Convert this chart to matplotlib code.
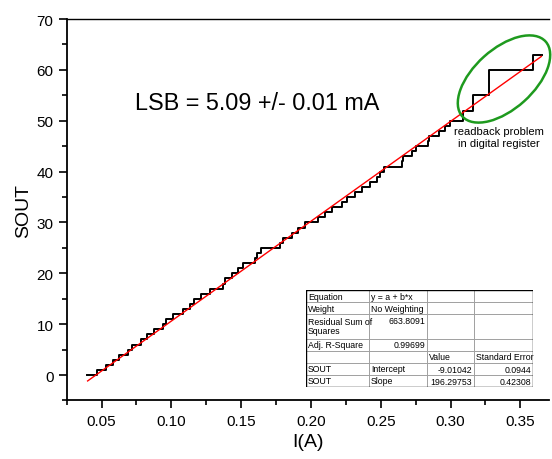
import matplotlib
matplotlib.use('Agg')
import matplotlib.pyplot as plt
from matplotlib.patches import Ellipse
from matplotlib.ticker import MultipleLocator

plt.rcParams['font.family'] = ['Liberation Sans', 'DejaVu Sans']

step_current = [0.0398, 0.0469, 0.0532, 0.0584, 0.0627, 0.0691, 0.0716, 0.0780, 0.0823, 0.0875,
                0.0942, 0.0961, 0.1014, 0.1085, 0.1130, 0.1165, 0.1210, 0.1277, 0.1372, 0.1384,
                0.1432, 0.1479, 0.1515, 0.1599, 0.1615, 0.1645, 0.1781, 0.1797, 0.1862, 0.1909,
                0.1957, 0.2052, 0.2100, 0.2148, 0.2220, 0.2256, 0.2315, 0.2363, 0.2423, 0.2471,
                0.2494, 0.2525, 0.2654, 0.2660, 0.2721, 0.2750, 0.2840, 0.2848, 0.2917, 0.2960,
                0.2996, 0.3091, 0.3158, 0.3277, 0.3592, 0.3653]
step_sout = [0, 1, 2, 3, 4, 5, 6, 7, 8, 9,
             10, 11, 12, 13, 14, 15, 16, 17, 18, 19,
             20, 21, 22, 23, 24, 25, 26, 27, 28, 29,
             30, 31, 32, 33, 34, 35, 36, 37, 38, 39,
             40, 41, 42, 43, 44, 45, 46, 47, 48, 49,
             50, 52, 55, 60, 63, 63]

# linear fit y = a + b*x
fit_a = -9.01042
fit_b = 196.29753
fit_range = [0.040, 0.365]

table_rows = [
    ['Equation', 'y = a + b*x', '', ''],
    ['Weight', 'No Weighting', '', ''],
    ['Residual Sum of\nSquares', '663.8091', '', ''],
    ['Adj. R-Square', '0.99699', '', ''],
    ['', '', 'Value', 'Standard Error'],
    ['SOUT', 'Intercept', '-9.01042', '0.0944'],
    ['SOUT', 'Slope', '196.29753', '0.42308'],
]
right_cells = {(2, 1), (3, 1), (5, 2), (5, 3), (6, 2), (6, 3)}

fig = plt.figure(figsize=(5.52, 4.6), dpi=100)
ax = fig.add_axes([0.1208, 0.1272, 0.8738, 0.8293])

ax.plot(step_current, step_sout, color='black', lw=1.4, drawstyle='steps-post')
ax.plot(fit_range, [fit_a + fit_b * x for x in fit_range], color='red', lw=1.0)

ax.set_xlim(0.025, 0.3705)
ax.set_ylim(-5, 70)
ax.xaxis.set_major_locator(MultipleLocator(0.05))
ax.xaxis.set_minor_locator(MultipleLocator(0.025))
ax.yaxis.set_major_locator(MultipleLocator(10))
ax.yaxis.set_minor_locator(MultipleLocator(5))
ax.xaxis.set_major_formatter(matplotlib.ticker.FormatStrFormatter('%.2f'))
ax.tick_params(which='major', direction='out', length=6, width=1.2, labelsize=11)
ax.tick_params(which='minor', direction='out', length=3.5, width=1.2)
ax.spines['right'].set_visible(False)
for s in ['left', 'bottom']:
    ax.spines[s].set_linewidth(1.3)
ax.spines['top'].set_linewidth(1.0)

ax.set_xlabel('I(A)', fontsize=14, labelpad=4)
ax.set_ylabel('SOUT', fontsize=14, labelpad=3)

fig.text(257 / 552, 1 - 103 / 460, 'LSB = 5.09 +/- 0.01 mA',
         fontsize=16.8, va='center', ha='center')
fig.text(499 / 552, 1 - 138 / 460, 'readback problem\nin digital register',
         fontsize=8, ha='center', va='center', linespacing=1.25)

# green ellipse around the jumps (figure pixels -> inches)
ell = Ellipse((504 / 100, (460 - 80) / 100), 1.12, 0.60, angle=42,
              transform=fig.dpi_scale_trans, fill=False, edgecolor='#1e9a1e', lw=1.8)
fig.patches.append(ell)

# fit table drawn in pixel coords
tx0, tx1, ty0, ty1 = 306, 533, 291, 388
tab = fig.add_axes([tx0 / 552, 1 - ty1 / 460, (tx1 - tx0) / 552, (ty1 - ty0) / 460])
tab.set_xlim(0, tx1 - tx0)
tab.set_ylim(ty1 - ty0, 0)
tab.axis('off')
col_x = [0, 63, 121, 168, tx1 - tx0]
row_units = [1, 1, 2, 1, 1, 1, 1]
unit = (ty1 - ty0) / sum(row_units)
row_y = [0]
for u in row_units:
    row_y.append(row_y[-1] + u * unit)
for y in row_y[1:-1]:
    tab.plot([0, col_x[-1]], [y, y], color='#a0a0a0', lw=0.7)
for x in col_x[1:-1]:
    tab.plot([x, x], [0, row_y[-1]], color='#a0a0a0', lw=0.7)
tab.plot([0, col_x[-1], col_x[-1], 0, 0], [0, 0, row_y[-1], row_y[-1], 0], color='black', lw=1.0)
for r, row in enumerate(table_rows):
    for c, txt in enumerate(row):
        if not txt:
            continue
        if (r, c) in right_cells:
            tab.text(col_x[c + 1] - 2, row_y[r] + 2, txt, fontsize=6.3, ha='right', va='top')
        else:
            tab.text(col_x[c] + 2, (row_y[r] + row_y[r + 1]) / 2, txt, fontsize=6.3,
                     ha='left', va='center', linespacing=1.0)

fig.savefig('out.png', dpi=100)
